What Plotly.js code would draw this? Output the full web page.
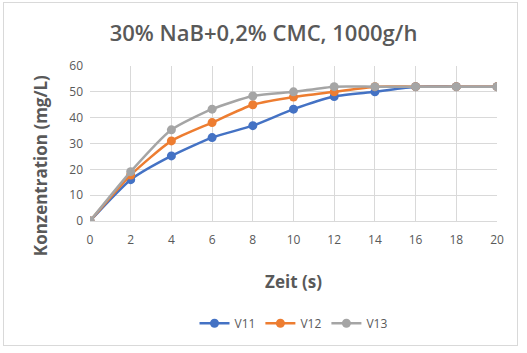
<!DOCTYPE html>
<html><head><meta charset="utf-8">
<script src="https://cdn.plot.ly/plotly-3.0.1.min.js"></script>
<style>body{margin:0;padding:0;background:#fff}#c{width:527px;height:353px;position:relative}#b{position:absolute;left:3px;top:2px;width:513px;height:342px;border:1px solid #d9d9d9;pointer-events:none}</style>
</head><body><div id="c"></div><div id="b"></div>
<script>
const zeit = [0, 2, 4, 6, 8, 10, 12, 14, 16, 18, 20];
const v11 = [0, 16, 25.2, 32.3, 36.9, 43.3, 48.2, 50, 52, 52, 52];
const v12 = [0, 17.8, 31, 38.1, 45, 48, 50, 52, 52, 52, 52];
const v13 = [0, 19.1, 35.3, 43.3, 48.4, 50, 52, 52, 52, 52, 52];
const names = ['V11', 'V12', 'V13'];
const colors = ['#4472C4', '#ED7D31', '#A5A5A5'];
const series = [v11, v12, v13];
const traces = series.map((s, i) => ({
  x: zeit, y: s, name: names[i], type: 'scatter', mode: 'lines+markers',
  line: {color: colors[i], width: 2.5, shape: 'spline', smoothing: 0.6},
  marker: {color: colors[i], size: 9}
}));
const layout = {
  width: 527, height: 353,
  margin: {l: 90, r: 30, t: 66, b: 132},
  paper_bgcolor: '#fff', plot_bgcolor: '#fff',
  font: {family: 'Open Sans, Liberation Sans, sans-serif', color: '#595959'},
  title: {text: '30% NaB+0,2% CMC, 1000g/h', x: 0.5, xanchor: 'center', y: 0.905, yanchor: 'middle',
    font: {size: 22, color: '#595959', family: 'Open Sans, sans-serif', weight: 600}},
  xaxis: {range: [0, 20], dtick: 2, tick0: 0, showgrid: true, gridcolor: '#d9d9d9', zeroline: false,
    showline: true, linecolor: '#d9d9d9', ticks: '', ticklabelstandoff: 8, tickfont: {size: 12, color: '#595959'},
    title: {text: 'Zeit (s)', font: {size: 17, color: '#595959', weight: 'bold'}, standoff: 28}},
  yaxis: {range: [0, 60], dtick: 10, showgrid: true, gridcolor: '#d9d9d9', zeroline: false,
    showline: false, ticks: '', ticklabelstandoff: 6, tickfont: {size: 12, color: '#595959'}},
  annotations: [{text: 'Konzentration (mg/L)', textangle: -90, xref: 'paper', yref: 'paper',
    x: -0.123, y: 0.36, xanchor: 'center', yanchor: 'middle', showarrow: false,
    font: {size: 17, color: '#595959', weight: 'bold'}}],
  showlegend: true,
  legend: {orientation: 'h', x: 0.5, xanchor: 'center', y: -0.66, yanchor: 'middle', font: {size: 12, color: '#595959'}}
};
Plotly.newPlot('c', traces, layout, {displayModeBar: false, staticPlot: true});
</script></body></html>
